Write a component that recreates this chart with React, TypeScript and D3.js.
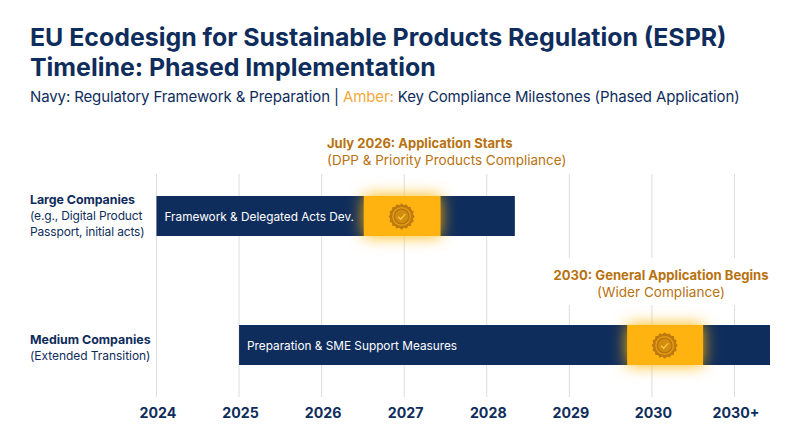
import React from 'react';
import * as d3 from 'd3';

const titleLines = [
  'EU Ecodesign for Sustainable Products Regulation (ESPR)',
  'Timeline: Phased Implementation',
];
const years = [2024, 2025, 2026, 2027, 2028, 2029, 2030, 2031];
const yearLabels = ['2024', '2025', '2026', '2027', '2028', '2029', '2030', '2030+'];
const rows = ['Large Companies', 'Medium Companies'];
const rowNotes = [
  ['(e.g., Digital Product', 'Passport, initial acts)'],
  ['(Extended Transition)'],
];
const barLabels = ['Framework & Delegated Acts Dev.', 'Preparation & SME Support Measures'];
const barStart = [2024, 2025];
const barEnd = [2028.34, 2031.43];
const milestoneStart = [2026.51, 2029.7];
const milestoneEnd = [2027.44, 2030.62];
const milestoneTitles = ['July 2026: Application Starts', '2030: General Application Begins'];
const milestoneNotes = ['(DPP & Priority Products Compliance)', '(Wider Compliance)'];

const NAVY = '#0f2d5c';
const AMBER = '#ffb310';
const BROWN = '#b8720f';
const FONT = 'Inter, "Open Sans", sans-serif';

const x = d3.scaleLinear().domain([2024, 2031]).range([156.5, 734.5]);

// scalloped seal outline
const seal = d3.lineRadial<number>()
  .angle(d => (d / 32) * 2 * Math.PI)
  .radius(d => (d % 2 === 0 ? 13 : 11.6))
  .curve(d3.curveCardinalClosed);

const Badge = ({ cx, cy }: { cx: number; cy: number }) => (
  <g transform={`translate(${cx},${cy})`}>
    <path d={seal(d3.range(32)) as string} fill="#bd7a10" />
    <circle r={9.4} fill="#e59f12" />
    <circle r={7.4} fill="#d18d10" stroke="#b8720f" strokeWidth={1.3} />
    <path d="M-3.4,0.2 L-0.9,2.7 L3.6,-2.4" fill="none" stroke="#ffc640" strokeWidth={1.4} />
  </g>
);

const barTop = [196, 325];
const barH = 40;

const App = () => {
  return (
    <svg
      width={800}
      height={447}
      style={{ position: 'absolute', left: 0, top: 0, background: '#fff' }}
      fontFamily={FONT}
    >
      <defs>
        <filter id="glow" x="-60%" y="-80%" width="220%" height="260%">
          <feGaussianBlur stdDeviation="8" />
        </filter>
      </defs>

      {titleLines.map((t, i) => (
        <text key={t} x={30} y={46 + i * 30} fontSize={24.9} fontWeight={700} fill={NAVY}>
          {t}
        </text>
      ))}
      <text x={30} y={102} fontSize={15} letterSpacing={-0.12} fill={NAVY}>
        Navy: Regulatory Framework &amp; Preparation | <tspan fill="#f2a93b">Amber:</tspan> Key Compliance Milestones (Phased Application)
      </text>

      {years.map(d => (
        d < 2029 ? (
          <line key={d} x1={x(d)} x2={x(d)} y1={174} y2={397} stroke="#dcdde0" strokeWidth={1} />
        ) : (
          <g key={d}>
            <line x1={x(d)} x2={x(d)} y1={174} y2={258} stroke="#dcdde0" strokeWidth={1} />
            <line x1={x(d)} x2={x(d)} y1={305} y2={397} stroke="#dcdde0" strokeWidth={1} />
          </g>
        )
      ))}

      {rows.map((r, i) => (
        <g key={r}>
          <rect x={x(barStart[i])} y={barTop[i]} width={x(barEnd[i]) - x(barStart[i])} height={barH} fill={NAVY} />
          <rect
            x={x(milestoneStart[i])}
            y={barTop[i]}
            width={x(milestoneEnd[i]) - x(milestoneStart[i])}
            height={barH}
            fill={AMBER}
            filter="url(#glow)"
          />
          <rect
            x={x(milestoneStart[i])}
            y={barTop[i]}
            width={x(milestoneEnd[i]) - x(milestoneStart[i])}
            height={barH}
            fill={AMBER}
          />
          <Badge cx={(x(milestoneStart[i]) + x(milestoneEnd[i])) / 2 - 0.5} cy={barTop[i] + 20.5} />
          <text x={x(barStart[i]) + 8} y={barTop[i] + 24.5} fontSize={11.8} fill="#fff">
            {barLabels[i]}
          </text>
        </g>
      ))}

      <text x={30} y={203.5} fontSize={12.4} fontWeight={700} letterSpacing={-0.05} fill={NAVY}>{rows[0]}</text>
      {rowNotes[0].map((t, i) => (
        <text key={t} x={30} y={219.5 + i * 16} fontSize={12} letterSpacing={-0.15} fill={NAVY}>{t}</text>
      ))}
      <text x={30} y={344} fontSize={12.4} fontWeight={700} fill={NAVY}>{rows[1]}</text>
      <text x={30} y={360} fontSize={12} letterSpacing={-0.05} fill={NAVY}>{rowNotes[1][0]}</text>

      <text x={327} y={148} fontSize={13} fontWeight={700} fill={BROWN}>{milestoneTitles[0]}</text>
      <text x={327} y={165} fontSize={13.5} fill={BROWN}>{milestoneNotes[0]}</text>
      <text x={661} y={280} fontSize={13.1} fontWeight={700} fill={BROWN} textAnchor="middle">{milestoneTitles[1]}</text>
      <text x={661} y={297} fontSize={13.6} fill={BROWN} textAnchor="middle">{milestoneNotes[1]}</text>

      {years.map((d, i) => (
        <text key={d} x={x(d) + 1.5} y={418} fontSize={14.2} fontWeight={700} fill={NAVY} textAnchor="middle">
          {yearLabels[i]}
        </text>
      ))}
    </svg>
  );
};

export default App;
